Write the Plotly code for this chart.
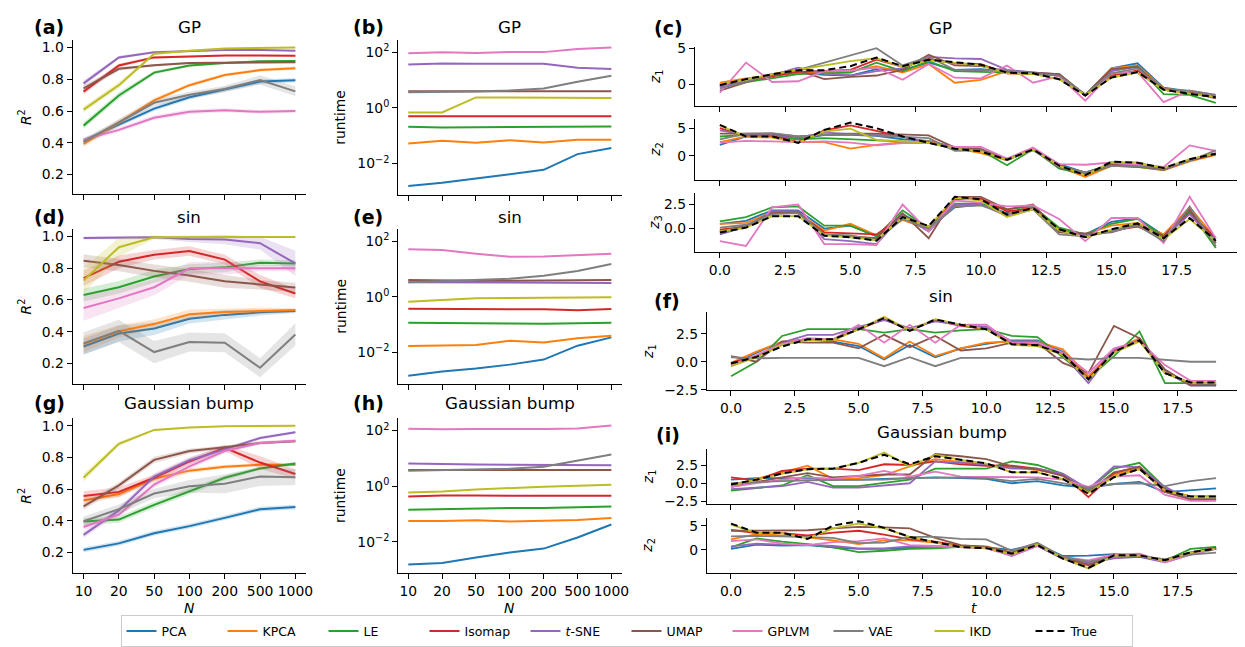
import plotly.graph_objects as go

W, H = 1245, 647

METHODS = ["PCA", "KPCA", "LE", "Isomap", "t-SNE", "UMAP", "GPLVM", "VAE", "IKD"]
LABELS = ["PCA", "KPCA", "LE", "Isomap", "<i>t</i>-SNE", "UMAP", "GPLVM", "VAE", "IKD"]
COLORS = ["#1f77b4", "#ff7f0e", "#2ca02c", "#d62728", "#9467bd",
          "#8c564b", "#e377c2", "#7f7f7f", "#bcbd22"]
N_VALUES = ["10", "20", "50", "100", "200", "500", "1000"]
T_STEPS = list(range(20))
T_TICKS = [0, 2.5, 5, 7.5, 10, 12.5, 15, 17.5]
T_TICKTEXT = ["0.0", "2.5", "5.0", "7.5", "10.0", "12.5", "15.0", "17.5"]

# ---------------- R^2 (mean) ----------------
r2_gp = {
    "PCA":    [0.414, 0.512, 0.615, 0.687, 0.735, 0.786, 0.794],
    "KPCA":   [0.393, 0.527, 0.667, 0.763, 0.827, 0.858, 0.870],
    "LE":     [0.508, 0.698, 0.842, 0.887, 0.903, 0.914, 0.916],
    "Isomap": [0.722, 0.887, 0.938, 0.944, 0.950, 0.950, 0.948],
    "t-SNE":  [0.774, 0.938, 0.971, 0.980, 0.985, 0.985, 0.980],
    "UMAP":   [0.743, 0.866, 0.889, 0.903, 0.905, 0.907, 0.907],
    "GPLVM":  [0.420, 0.481, 0.558, 0.595, 0.605, 0.595, 0.600],
    "VAE":    [0.405, 0.527, 0.652, 0.702, 0.739, 0.796, 0.724],
    "IKD":    [0.609, 0.763, 0.961, 0.980, 0.994, 0.998, 1.000],
}
r2_gp_ci = {
    "PCA":    [0.015, 0.015, 0.015, 0.015, 0.015, 0.015, 0.012],
    "KPCA":   [0.02, 0.02, 0.015, 0.012, 0.01, 0.01, 0.01],
    "LE":     [0.02, 0.02, 0.012, 0.008, 0.006, 0.005, 0.005],
    "Isomap": [0.02, 0.012, 0.008, 0.006, 0.005, 0.005, 0.005],
    "t-SNE":  [0.02, 0.01, 0.006, 0.005, 0.004, 0.004, 0.004],
    "UMAP":   [0.02, 0.012, 0.008, 0.006, 0.005, 0.005, 0.005],
    "GPLVM":  [0.015, 0.015, 0.015, 0.015, 0.012, 0.012, 0.012],
    "VAE":    [0.02, 0.02, 0.02, 0.02, 0.02, 0.03, 0.03],
    "IKD":    [0.02, 0.02, 0.008, 0.005, 0.003, 0.002, 0.002],
}

r2_sin = {
    "PCA":    [0.307, 0.389, 0.420, 0.481, 0.506, 0.522, 0.530],
    "KPCA":   [0.323, 0.403, 0.448, 0.510, 0.524, 0.532, 0.536],
    "LE":     [0.631, 0.680, 0.748, 0.795, 0.805, 0.834, 0.830],
    "Isomap": [0.737, 0.840, 0.885, 0.908, 0.854, 0.717, 0.641],
    "t-SNE":  [0.990, 0.994, 0.994, 0.984, 0.980, 0.957, 0.830],
    "UMAP":   [0.846, 0.820, 0.783, 0.754, 0.717, 0.696, 0.678],
    "GPLVM":  [0.549, 0.610, 0.680, 0.799, 0.800, 0.800, 0.800],
    "VAE":    [0.327, 0.405, 0.272, 0.335, 0.331, 0.173, 0.383],
    "IKD":    [0.723, 0.932, 0.994, 0.994, 0.996, 0.996, 0.996],
}
r2_sin_ci = {
    "PCA":    [0.05, 0.05, 0.04, 0.03, 0.03, 0.02, 0.012],
    "KPCA":   [0.05, 0.04, 0.03, 0.03, 0.02, 0.02, 0.012],
    "LE":     [0.04, 0.04, 0.04, 0.03, 0.03, 0.02, 0.02],
    "Isomap": [0.05, 0.04, 0.03, 0.03, 0.03, 0.04, 0.03],
    "t-SNE":  [0.01, 0.01, 0.01, 0.02, 0.03, 0.04, 0.08],
    "UMAP":   [0.04, 0.04, 0.04, 0.04, 0.04, 0.03, 0.03],
    "GPLVM":  [0.08, 0.06, 0.05, 0.04, 0.04, 0.02, 0.02],
    "VAE":    [0.07, 0.07, 0.07, 0.06, 0.06, 0.06, 0.07],
    "IKD":    [0.08, 0.06, 0.01, 0.005, 0.005, 0.005, 0.005],
}

r2_bump = {
    "PCA":    [0.216, 0.257, 0.321, 0.366, 0.418, 0.473, 0.486],
    "KPCA":   [0.527, 0.568, 0.665, 0.716, 0.741, 0.753, 0.753],
    "LE":     [0.395, 0.407, 0.500, 0.586, 0.671, 0.730, 0.761],
    "Isomap": [0.556, 0.582, 0.671, 0.774, 0.860, 0.767, 0.695],
    "t-SNE":  [0.311, 0.465, 0.679, 0.782, 0.850, 0.922, 0.959],
    "UMAP":   [0.490, 0.623, 0.784, 0.840, 0.864, 0.891, 0.901],
    "GPLVM":  [0.360, 0.438, 0.628, 0.743, 0.840, 0.891, 0.905],
    "VAE":    [0.397, 0.473, 0.572, 0.617, 0.634, 0.679, 0.675],
    "IKD":    [0.671, 0.885, 0.973, 0.988, 0.996, 0.998, 1.000],
}
r2_bump_ci = {
    "PCA":    [0.015, 0.015, 0.015, 0.015, 0.015, 0.015, 0.015],
    "KPCA":   [0.02, 0.02, 0.02, 0.015, 0.012, 0.01, 0.01],
    "LE":     [0.02, 0.02, 0.02, 0.02, 0.015, 0.01, 0.01],
    "Isomap": [0.03, 0.03, 0.02, 0.02, 0.02, 0.04, 0.03],
    "t-SNE":  [0.02, 0.02, 0.02, 0.02, 0.015, 0.01, 0.008],
    "UMAP":   [0.02, 0.02, 0.02, 0.015, 0.01, 0.01, 0.008],
    "GPLVM":  [0.02, 0.02, 0.02, 0.02, 0.015, 0.01, 0.01],
    "VAE":    [0.03, 0.03, 0.03, 0.04, 0.06, 0.06, 0.05],
    "IKD":    [0.025, 0.015, 0.006, 0.004, 0.003, 0.002, 0.002],
}

# ---------------- runtime (seconds) ----------------
rt_gp = {
    "PCA":    [0.00155, 0.00204, 0.00288, 0.00407, 0.00596, 0.0219, 0.0363],
    "KPCA":   [0.0531, 0.0661, 0.0562, 0.0697, 0.0575, 0.0714, 0.0714],
    "LE":     [0.211, 0.200, 0.204, 0.204, 0.204, 0.209, 0.217],
    "Isomap": [0.50, 0.50, 0.50, 0.49, 0.50, 0.50, 0.50],
    "t-SNE":  [36.8, 39.8, 38.9, 38.9, 38.9, 28.2, 25.1],
    "UMAP":   [4.0, 4.0, 4.05, 4.0, 4.0, 4.0, 4.0],
    "GPLVM":  [92, 100, 95, 102, 102, 132, 151],
    "VAE":    [3.70, 3.70, 3.89, 4.24, 4.98, 8.79, 14.3],
    "IKD":    [0.69, 0.69, 2.40, 2.40, 2.34, 2.29, 2.28],
}
rt_sin = {
    "PCA":    [0.00145, 0.00204, 0.00263, 0.00363, 0.00550, 0.0174, 0.0347],
    "KPCA":   [0.0170, 0.0182, 0.0186, 0.0263, 0.0229, 0.0324, 0.0398],
    "LE":     [0.116, 0.116, 0.116, 0.110, 0.107, 0.112, 0.116],
    "Isomap": [0.372, 0.372, 0.363, 0.355, 0.355, 0.331, 0.363],
    "t-SNE":  [3.31, 3.31, 3.24, 3.24, 3.24, 3.16, 3.16],
    "UMAP":   [4.01, 3.80, 3.80, 3.80, 3.80, 3.89, 3.98],
    "GPLVM":  [50.9, 47.9, 35.5, 27.4, 28.2, 31.6, 35.5],
    "VAE":    [3.31, 3.60, 3.89, 4.47, 5.70, 8.51, 15.1],
    "IKD":    [0.661, 0.776, 0.891, 0.912, 0.912, 0.955, 0.955],
}
rt_bump = {
    "PCA":    [0.00151, 0.00170, 0.00269, 0.00407, 0.00562, 0.0141, 0.0417],
    "KPCA":   [0.0550, 0.0550, 0.0589, 0.0537, 0.0562, 0.0603, 0.0714],
    "LE":     [0.141, 0.148, 0.162, 0.162, 0.162, 0.170, 0.184],
    "Isomap": [0.427, 0.461, 0.457, 0.447, 0.447, 0.447, 0.447],
    "t-SNE":  [6.53, 6.17, 6.03, 5.89, 5.89, 5.75, 5.70],
    "UMAP":   [3.80, 3.80, 3.85, 3.85, 3.80, 3.80, 3.80],
    "GPLVM":  [117, 112, 115, 112, 115, 120, 151],
    "VAE":    [3.60, 3.80, 3.98, 4.24, 4.98, 8.51, 13.8],
    "IKD":    [0.589, 0.638, 0.752, 0.859, 0.955, 1.04, 1.12],
}

# ---------------- latent trajectories ----------------
traj_gp_z1 = {
    "PCA":    [0.0, 0.6, 1.2, 1.6, 1.3, 1.2, 2.1, 2.0, 3.0, 2.0, 2.1, 1.7, 1.5, 1.4, -1.5, 2.2, 2.9, -0.5, -1.0, -1.7],
    "KPCA":   [0.2, 0.8, 1.2, 1.6, 1.6, 1.8, 2.5, 1.6, 2.8, 0.2, 0.6, 1.8, 1.5, 1.4, -1.6, 2.2, 2.6, -0.6, -1.1, -1.9],
    "LE":     [-0.3, 0.3, 0.9, 1.4, 1.5, 1.6, 3.0, 1.8, 3.2, 1.8, 1.7, 1.6, 1.5, 1.2, -1.5, 1.8, 2.5, -1.4, -1.5, -2.6],
    "Isomap": [-0.2, 0.5, 1.1, 1.7, 1.9, 2.0, 3.4, 2.4, 3.5, 2.9, 2.8, 1.5, 1.4, 1.3, -1.6, 1.2, 1.9, -0.8, -1.2, -1.8],
    "t-SNE":  [-0.4, 0.4, 1.3, 2.3, 1.5, 1.2, 1.8, 2.2, 3.8, 3.6, 3.5, 2.0, 1.6, 1.3, -1.6, 1.9, 2.4, -0.7, -1.2, -1.8],
    "UMAP":   [-0.9, 0.2, 1.4, 1.9, 0.7, 1.0, 1.2, 2.0, 4.1, 2.6, 2.5, 1.8, 1.6, 1.4, -1.5, 2.1, 2.4, -0.8, -1.1, -2.0],
    "GPLVM":  [-1.2, 3.0, 0.3, 0.4, 1.8, 1.9, 2.3, 0.6, 2.8, 0.9, 0.8, 2.6, 0.2, 1.1, -2.3, 1.5, 1.7, -2.5, -0.9, -1.5],
    "VAE":    [-0.6, 0.4, 1.3, 2.0, 3.0, 3.9, 5.0, 2.6, 3.8, 2.0, 2.0, 1.9, 1.5, 1.2, -1.4, 1.5, 2.2, -0.7, -0.9, -1.5],
    "IKD":    [0.0, 0.6, 1.4, 2.0, 2.7, 3.2, 3.6, 2.4, 3.3, 3.0, 2.6, 1.5, 1.4, 0.7, -1.5, 0.9, 1.6, -0.8, -1.3, -1.8],
    "True":   [-0.14, 0.7, 1.36, 1.95, 1.95, 2.5, 3.7, 2.5, 3.4, 3.05, 2.7, 1.6, 1.5, 0.68, -1.58, 0.91, 1.69, -0.77, -1.36, -1.81],
}
traj_gp_z2 = {
    "PCA":    [2.0, 3.5, 3.6, 3.0, 3.8, 3.8, 3.6, 3.0, 2.7, 1.6, 1.0, -0.6, 1.3, -1.5, -3.0, -1.5, -1.8, -2.5, -0.8, 0.3],
    "KPCA":   [2.5, 3.5, 3.5, 2.5, 2.5, 1.3, 2.0, 2.5, 2.6, 1.4, 0.5, -0.8, 1.2, -2.0, -3.8, -1.8, -2.0, -2.6, -1.0, 0.2],
    "LE":     [3.5, 3.8, 3.8, 3.0, 3.2, 3.0, 2.8, 2.6, 2.4, 1.2, 1.0, -1.7, 1.2, -2.3, -3.3, -1.8, -2.0, -2.5, -0.8, 0.4],
    "Isomap": [5.0, 3.5, 3.6, 2.5, 4.6, 5.5, 4.5, 3.5, 2.5, 1.4, 1.0, -0.7, 1.2, -2.0, -3.3, -1.6, -1.8, -2.4, -0.8, 0.3],
    "t-SNE":  [4.6, 3.8, 3.8, 3.3, 4.2, 4.0, 3.8, 3.5, 2.4, 1.5, 1.2, -0.8, 1.4, -2.0, -3.2, -1.5, -1.8, -2.5, -0.8, 0.5],
    "UMAP":   [4.0, 4.0, 4.0, 3.5, 3.8, 4.0, 4.0, 3.8, 3.7, 1.5, 1.2, -0.6, 1.2, -1.8, -3.0, -1.6, -1.9, -2.3, -0.8, 0.3],
    "GPLVM":  [2.4, 2.7, 2.6, 2.5, 2.6, 2.4, 1.9, 2.3, 2.3, 1.6, 1.6, -0.5, 1.5, -1.5, -1.6, -1.2, -1.6, -2.0, 1.9, 0.9],
    "VAE":    [3.0, 4.0, 4.1, 3.5, 3.8, 3.9, 3.7, 3.5, 3.2, 0.9, 1.0, -0.7, 1.0, -1.9, -3.0, -1.8, -1.9, -2.2, -0.9, 1.0],
    "IKD":    [5.5, 3.4, 3.3, 2.4, 4.4, 4.9, 2.9, 2.6, 2.4, 1.3, 0.8, -0.7, 1.1, -1.8, -3.5, -1.1, -1.2, -2.2, -0.6, 0.4],
    "True":   [5.6, 3.5, 3.5, 2.35, 4.7, 6.0, 5.0, 3.5, 2.35, 1.3, 0.8, -0.7, 1.17, -1.76, -3.5, -1.06, -1.23, -2.2, -0.6, 0.4],
}
traj_gp_z3 = {
    "PCA":    [0.5, 0.8, 1.9, 1.9, 0.0, 0.3, -0.8, 1.5, 0.0, 2.2, 2.5, 1.6, 2.2, 0.0, -0.6, 0.7, 1.1, -0.7, 1.7, -1.3],
    "KPCA":   [0.5, 0.6, 1.7, 1.6, -0.2, 0.5, -0.7, 0.9, -0.1, 2.4, 2.5, 1.5, 2.3, 0.0, -0.6, 0.3, 0.6, -0.6, 2.2, -1.0],
    "LE":     [0.75, 1.2, 2.2, 2.3, 0.3, 0.3, -0.8, 1.9, 0.0, 2.6, 2.6, 2.0, 2.3, 0.1, -0.6, 0.5, 1.0, -0.8, 1.8, -2.0],
    "Isomap": [-0.1, 0.2, 1.6, 1.6, -0.4, -0.5, -0.6, 1.3, 0.2, 3.0, 3.1, 1.8, 2.1, -0.2, -0.8, -0.2, 0.2, -0.8, 1.6, -1.0],
    "t-SNE":  [-0.6, 0.2, 1.8, 1.8, -1.1, -1.3, -1.6, 1.4, -0.3, 2.5, 2.5, 1.3, 2.0, -0.3, -0.7, -0.3, 0.5, -1.0, 1.5, -1.5],
    "UMAP":   [-0.3, 0.3, 1.6, 1.7, -0.6, -0.8, -1.0, 1.6, -1.0, 3.3, 3.3, 2.0, 2.5, -0.4, -0.5, -0.4, 0.4, -0.8, 2.0, -1.5],
    "GPLVM":  [-1.3, -1.8, 2.2, 2.5, -1.6, -1.6, -1.7, 2.5, -0.3, 2.9, 2.7, 2.3, 2.4, 1.0, -1.3, 1.1, 1.1, -1.5, 3.3, -1.0],
    "VAE":    [0.1, 0.4, 1.5, 1.6, -0.6, -0.7, -1.2, 1.0, 0.0, 2.3, 2.4, 1.5, 2.0, -0.6, -0.8, -0.3, 0.3, -1.3, 2.3, -1.8],
    "IKD":    [-0.3, 0.1, 1.3, 1.3, -0.7, -0.9, -1.2, 1.2, 0.2, 3.2, 2.9, 1.2, 2.0, -0.2, -0.9, -0.1, 0.6, -1.1, 1.0, -1.3],
    "True":   [-0.4, 0.1, 1.28, 1.28, -0.74, -0.9, -1.25, 1.2, 0.27, 3.3, 3.04, 1.45, 2.13, -0.07, -0.9, -0.07, 0.54, -1.0, 1.1, -1.25],
}
traj_sin_z1 = {
    "PCA":    [-0.2, 0.8, 1.8, 2.0, 1.8, 1.4, 0.2, 1.5, 0.4, 1.2, 1.6, 1.9, 1.9, 0.9, -1.3, 1.0, 2.0, -0.9, -2.1, -2.1],
    "KPCA":   [-0.1, 0.9, 1.8, 2.0, 2.0, 1.6, 0.3, 1.8, 0.5, 1.2, 1.7, 1.8, 1.8, 1.1, -1.3, 1.0, 2.1, -0.9, -2.0, -2.0],
    "LE":     [-1.3, 0.0, 2.3, 2.9, 2.9, 2.9, 2.6, 2.9, 2.6, 2.8, 2.9, 2.3, 2.2, 0.4, -1.5, 0.5, 2.7, -1.9, -1.9, -2.1],
    "Isomap": [-0.1, 0.5, 1.5, 2.0, 2.0, 2.9, 3.8, 2.8, 3.7, 3.2, 2.9, 1.6, 1.5, 0.7, -1.5, 0.9, 1.9, -1.0, -1.9, -1.9],
    "t-SNE":  [-0.4, 0.5, 1.7, 2.4, 2.4, 3.1, 3.7, 3.0, 3.6, 3.3, 3.1, 1.8, 1.8, 0.6, -1.9, 1.1, 1.9, -0.9, -2.1, -2.1],
    "UMAP":   [0.5, 0.0, 1.8, 1.7, 1.7, 1.2, 2.4, 1.3, 2.3, 1.0, 1.2, 1.7, 1.7, -0.1, -1.0, 3.2, 2.1, -0.7, -2.1, -2.1],
    "GPLVM":  [-0.3, 0.6, 1.6, 2.1, 2.0, 3.3, 1.7, 3.3, 1.7, 3.3, 3.3, 1.7, 1.7, 0.8, -1.0, 1.2, 1.8, -0.3, -1.7, -1.7],
    "VAE":    [0.4, 0.3, 0.35, 0.35, 0.35, 0.35, -0.4, 0.4, -0.4, 0.35, 0.35, 0.35, 0.35, 0.35, 0.2, 0.35, 0.35, 0.2, 0.0, 0.0],
    "IKD":    [-0.4, 0.4, 1.5, 1.9, 1.9, 2.9, 4.0, 2.8, 3.8, 3.3, 2.9, 1.5, 1.4, 0.6, -1.6, 0.8, 1.8, -1.0, -1.9, -1.9],
    "True":   [-0.15, 0.43, 1.36, 2.0, 2.0, 2.9, 3.9, 2.75, 3.77, 3.3, 2.9, 1.56, 1.47, 0.68, -1.56, 0.88, 1.91, -1.03, -1.85, -1.85],
}
traj_bump_z1 = {
    "PCA":    [0.5, 0.7, 0.7, 0.7, 0.6, 0.5, 0.6, 0.7, 0.8, 0.7, 0.6, 0.0, 0.3, -0.3, -0.6, -0.1, 0.2, -1.2, -1.0, -0.7],
    "KPCA":   [-0.3, 0.6, 1.5, 2.4, 0.6, 0.7, 1.1, 2.3, 3.3, 2.9, 2.5, 2.1, 1.8, 1.2, -1.2, 1.2, 2.0, -1.2, -2.2, -2.2],
    "LE":     [-1.0, -0.6, -0.3, 1.1, -0.4, -0.4, 0.0, 0.5, 2.0, 2.0, 2.0, 3.0, 2.5, 1.3, -0.9, 2.0, 2.8, -0.6, -2.2, -2.2],
    "Isomap": [0.8, 0.4, 1.7, 2.0, 2.0, 1.8, 2.6, 2.5, 3.0, 2.6, 2.4, 2.4, 2.0, 1.2, -1.9, 1.4, 2.3, -0.9, -1.8, -1.8],
    "t-SNE":  [-0.8, -0.6, -0.4, 0.2, -0.6, -0.6, -0.3, 0.0, 3.0, 2.8, 2.6, 2.0, 2.0, 1.3, -0.8, 2.3, 2.2, -0.5, -2.3, -2.3],
    "UMAP":   [-0.5, 0.2, 0.8, 1.4, 0.8, 1.0, 1.2, 1.2, 4.0, 3.7, 3.3, 2.3, 1.9, 1.0, -1.2, 1.5, 2.2, -1.2, -2.2, -2.2],
    "GPLVM":  [-0.5, 0.0, 0.5, 0.8, 0.6, 1.0, 1.7, 0.9, 1.6, 0.9, 0.9, 0.8, 0.8, 0.5, -0.5, 0.9, 1.1, -1.6, -2.4, -2.4],
    "VAE":    [0.0, 0.2, 0.3, 0.4, 0.4, 0.4, 0.5, 0.7, 0.8, 0.8, 0.7, 0.3, 0.6, 0.0, -0.6, -0.1, 0.0, -0.4, 0.3, 0.7],
    "IKD":    [-0.3, 0.5, 1.3, 1.9, 2.0, 2.8, 4.2, 2.3, 3.9, 3.2, 2.7, 1.5, 1.5, 0.6, -1.3, 0.9, 1.9, -1.0, -1.8, -1.8],
    "True":   [-0.18, 0.5, 1.34, 1.92, 2.0, 2.8, 3.9, 2.6, 3.7, 3.18, 2.72, 1.5, 1.5, 0.59, -1.45, 0.82, 1.96, -1.0, -1.82, -1.82],
}
traj_bump_z2 = {
    "PCA":    [0.2, 1.1, 0.9, 1.0, 0.5, 0.2, 0.2, 0.5, 0.7, 0.6, 0.5, 0.0, 1.2, -1.3, -1.2, -0.9, -1.1, -2.3, -0.6, 0.6],
    "KPCA":   [2.2, 3.3, 3.0, 2.6, 2.0, 1.2, 2.0, 2.0, 1.5, 0.8, 0.7, -0.6, 0.9, -1.8, -3.3, -1.2, -1.3, -2.2, -0.7, 0.4],
    "LE":     [0.5, 2.4, 1.7, 1.2, 0.5, -0.5, -0.2, 0.2, 0.3, 0.6, 0.4, -0.7, 1.0, -1.4, -3.0, -1.3, -1.2, -2.3, 0.2, 0.6],
    "Isomap": [4.2, 3.5, 3.5, 3.0, 3.6, 4.0, 3.2, 2.2, 1.7, 0.8, 0.6, -0.7, 1.0, -1.6, -3.0, -1.0, -1.2, -2.4, -0.7, 0.4],
    "t-SNE":  [0.7, 1.3, 1.1, 1.1, 0.8, 0.3, 0.3, 0.7, 0.6, 0.6, 0.5, -1.3, 0.8, -1.9, -2.8, -1.8, -1.5, -2.6, -1.0, 0.2],
    "UMAP":   [4.0, 4.0, 4.0, 4.1, 4.5, 4.8, 4.7, 4.5, 2.5, 1.0, 0.6, -0.6, 1.3, -1.5, -3.2, -1.3, -1.4, -2.0, -0.6, 0.3],
    "GPLVM":  [1.8, 2.2, 1.3, 1.0, 1.6, 1.8, 2.4, 1.0, 0.8, 0.5, 0.3, -1.2, 0.8, -1.5, -2.2, -1.0, -0.8, -2.6, -1.0, 0.2],
    "VAE":    [2.8, 2.9, 2.8, 2.7, 2.5, 1.4, 1.5, 2.7, 2.7, 2.3, 2.2, -0.2, 1.5, -1.5, -2.5, -1.5, -1.2, -2.0, -1.0, -0.6],
    "IKD":    [5.3, 3.5, 3.5, 2.4, 4.5, 5.5, 4.5, 2.7, 1.5, 0.6, 0.4, -0.9, 1.1, -1.8, -3.9, -1.2, -1.2, -2.3, -0.6, 0.2],
    "True":   [5.5, 3.6, 3.6, 2.26, 5.1, 6.0, 4.6, 2.7, 1.6, 0.55, 0.35, -0.8, 1.02, -1.86, -3.77, -1.16, -1.16, -2.2, -0.5, 0.2],
}


def hex_rgba(h, a):
    h = h.lstrip("#")
    return "rgba(%d,%d,%d,%.2f)" % (int(h[0:2], 16), int(h[2:4], 16), int(h[4:6], 16), a)


def dx(a, b):
    return [a / W, b / W]


def dy(top, bottom):
    return [1 - bottom / H, 1 - top / H]


FONT = "DejaVu Sans"
TICKF = dict(family=FONT, size=13.9, color="black")
AX = dict(showline=True, linecolor="black", linewidth=1, ticks="outside", ticklen=5,
          tickwidth=1, tickcolor="black", showgrid=False, zeroline=False, tickfont=TICKF)

fig = go.Figure()
layout = dict(width=W, height=H, margin=dict(l=0, r=0, t=0, b=0),
              plot_bgcolor="white", paper_bgcolor="white",
              font=dict(family=FONT, color="black"))

NX = list(range(len(N_VALUES)))
col1 = [(1, r2_gp, r2_gp_ci, (27, 184), [0.077, 1.045], False),
        (2, r2_sin, r2_sin_ci, (220, 377.7), [0.074, 1.045], False),
        (3, r2_bump, r2_bump_ci, (413.3, 571.7), [0.068, 1.046], True)]
for idx, data, ci, (top, bot), yr, lab in col1:
    layout["xaxis%d" % idx] = dict(AX, domain=dx(65, 300), anchor="y%d" % idx, range=[-0.31, 6.31],
                                   tickvals=NX, ticktext=N_VALUES, showticklabels=lab)
    layout["yaxis%d" % idx] = dict(AX, domain=dy(top, bot), anchor="x%d" % idx, range=yr,
                                   tickvals=[0.2, 0.4, 0.6, 0.8, 1.0],
                                   ticktext=["0.2", "0.4", "0.6", "0.8", "1.0"])
    for m, lbl, c in zip(METHODS, LABELS, COLORS):
        v, e = data[m], ci[m]
        up = [a + b for a, b in zip(v, e)]
        lo = [a - b for a, b in zip(v, e)]
        fig.add_trace(go.Scatter(x=NX + NX[::-1], y=up + lo[::-1], fill="toself",
                                 fillcolor=hex_rgba(c, 0.2), line=dict(width=0), mode="lines",
                                 hoverinfo="skip", showlegend=False,
                                 xaxis="x%d" % idx, yaxis="y%d" % idx))
        fig.add_trace(go.Scatter(x=NX, y=v, mode="lines", line=dict(color=c, width=2),
                                 name=lbl, legendgroup=m, showlegend=(idx == 1),
                                 xaxis="x%d" % idx, yaxis="y%d" % idx))

col2 = [(4, rt_gp, (26.7, 185), [-3.13, 2.44], False),
        (5, rt_sin, (220, 377.7), [-3.12, 2.43], False),
        (6, rt_bump, (413.3, 571.7), [-3.14, 2.44], True)]
for idx, data, (top, bot), yr, lab in col2:
    layout["xaxis%d" % idx] = dict(AX, domain=dx(392.3, 617), anchor="y%d" % idx, range=[-0.3, 6.3],
                                   tickvals=NX, ticktext=N_VALUES, showticklabels=lab)
    layout["yaxis%d" % idx] = dict(AX, domain=dy(top, bot), anchor="x%d" % idx, type="log", range=yr,
                                   tickvals=[0.01, 1, 100],
                                   ticktext=["10<sup>\u22122</sup>", "10<sup>0</sup>", "10<sup>2</sup>"])
    for m, c in zip(METHODS, COLORS):
        fig.add_trace(go.Scatter(x=NX, y=data[m], mode="lines", line=dict(color=c, width=2),
                                 legendgroup=m, showlegend=False,
                                 xaxis="x%d" % idx, yaxis="y%d" % idx))

col3 = [(7, traj_gp_z1, (690.7, 1239.3), (33.3, 94.3), [-3.08, 5.23], [0, 5], ["0", "5"], False, [-0.96, 19.94]),
        (8, traj_gp_z2, (690.7, 1239.3), (107.7, 169.3), [-4.29, 6.59], [0, 5], ["0", "5"], False, [-0.96, 19.94]),
        (9, traj_gp_z3, (690.7, 1239.3), (182.7, 243.3), [-2.43, 3.72], [0, 2.5], ["0.0", "2.5"], True, [-0.96, 19.94]),
        (10, traj_sin_z1, (702.7, 1239.3), (305, 384.3), [-2.52, 4.4], [-2.5, 0, 2.5], ["\u22122.5", "0.0", "2.5"], True, [-0.95, 19.95]),
        (11, traj_bump_z1, (702.7, 1239.3), (445, 501), [-2.86, 4.64], [-2.5, 0, 2.5], ["\u22122.5", "0.0", "2.5"], False, [-0.95, 19.95]),
        (12, traj_bump_z2, (702.7, 1239.3), (515, 571.7), [-4.93, 6.7], [0, 5], ["0", "5"], True, [-0.95, 19.95])]
for idx, data, (xl, xr), (top, bot), yr, tv, tt, lab, xrng in col3:
    layout["xaxis%d" % idx] = dict(AX, domain=dx(xl, xr), anchor="y%d" % idx, range=xrng,
                                   tickvals=T_TICKS, ticktext=T_TICKTEXT, showticklabels=lab)
    layout["yaxis%d" % idx] = dict(AX, domain=dy(top, bot), anchor="x%d" % idx, range=yr,
                                   tickvals=tv, ticktext=tt)
    for m, c in zip(METHODS, COLORS):
        fig.add_trace(go.Scatter(x=T_STEPS, y=data[m], mode="lines", line=dict(color=c, width=1.8),
                                 legendgroup=m, showlegend=False,
                                 xaxis="x%d" % idx, yaxis="y%d" % idx))
    fig.add_trace(go.Scatter(x=T_STEPS, y=data["True"], mode="lines",
                             line=dict(color="black", width=2, dash="7px,4px"),
                             name="True", legendgroup="True", showlegend=(idx == 7),
                             xaxis="x%d" % idx, yaxis="y%d" % idx))

ann = []


def text(x, y, s, size, bold=False, xanchor="center", angle=0):
    ann.append(dict(x=x / W, y=1 - y / H, xref="paper", yref="paper", text=("<b>%s</b>" % s) if bold else s,
                    showarrow=False, xanchor=xanchor, yanchor="middle", textangle=angle,
                    font=dict(family=FONT, size=size, color="black")))


# panel labels
for s, x, y in [("(a)", 24, 13), ("(d)", 24, 207), ("(g)", 24, 398),
                ("(b)", 345, 13), ("(e)", 345, 208), ("(h)", 345, 398),
                ("(c)", 648, 14), ("(f)", 648, 293), ("(i)", 650, 430)]:
    text(x, y, s, 19, bold=True, xanchor="left")
# titles
for s, x, y in [("GP", 182.5, 13), ("sin", 182.5, 207), ("Gaussian bump", 182.5, 398),
                ("GP", 504.6, 13), ("sin", 504.6, 207), ("Gaussian bump", 504.6, 398),
                ("GP", 938, 14), ("sin", 938, 288), ("Gaussian bump", 939, 427)]:
    text(x, y, s, 16.7)
# y-axis titles
for s, x, y in [("<i>R</i><sup>2</sup>", 17, 105.5), ("<i>R</i><sup>2</sup>", 17, 299), ("<i>R</i><sup>2</sup>", 17, 492.5),
                ("runtime", 334, 106), ("runtime", 334, 299), ("runtime", 334, 492.5),
                ("<i>z</i><sub>1</sub>", 651, 64), ("<i>z</i><sub>2</sub>", 651, 138.5), ("<i>z</i><sub>3</sub>", 651, 213),
                ("<i>z</i><sub>1</sub>", 644, 345), ("<i>z</i><sub>1</sub>", 644, 473), ("<i>z</i><sub>2</sub>", 644, 543)]:
    text(x, y, s, 13.9, angle=-90)
# x-axis titles
for s, x, y in [("<i>N</i>", 182.5, 607), ("<i>N</i>", 504.6, 607), ("<i>t</i>", 971, 607)]:
    text(x, y, s, 13.9)

layout["annotations"] = ann
layout["showlegend"] = True
layout["legend"] = dict(orientation="h", x=622 / W, xanchor="center", y=1 - 631 / H, yanchor="middle",
                        bordercolor="#cccccc", borderwidth=1, bgcolor="white",
                        font=dict(family=FONT, size=12.5, color="black"),
                        entrywidth=56, entrywidthmode="pixels", traceorder="normal")
fig.update_layout(**layout)
fig.write_html("out.html")
